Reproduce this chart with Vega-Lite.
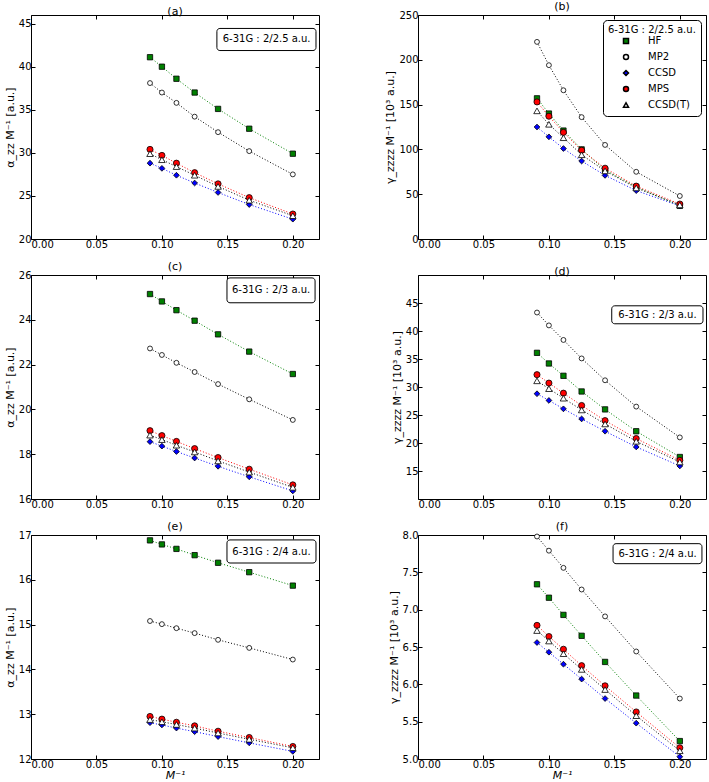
{
  "$schema": "https://vega.github.io/schema/vega-lite/v6.json",
  "padding": {"left": 3, "top": 0, "right": 0, "bottom": 0},
  "columns": 2,
  "spacing": {"row": 36, "column": 99},
  "bounds": "flush",
  "datasets": {
    "a": [
      {"x": 0.0909, "method": "HF", "value": 41.1}, {"x": 0.1, "method": "HF", "value": 40.0}, {"x": 0.1111, "method": "HF", "value": 38.6}, {"x": 0.125, "method": "HF", "value": 37.0}, {"x": 0.1429, "method": "HF", "value": 35.1}, {"x": 0.1667, "method": "HF", "value": 32.8}, {"x": 0.2, "method": "HF", "value": 29.9},
      {"x": 0.0909, "method": "MP2", "value": 38.1}, {"x": 0.1, "method": "MP2", "value": 37.0}, {"x": 0.1111, "method": "MP2", "value": 35.8}, {"x": 0.125, "method": "MP2", "value": 34.2}, {"x": 0.1429, "method": "MP2", "value": 32.4}, {"x": 0.1667, "method": "MP2", "value": 30.2}, {"x": 0.2, "method": "MP2", "value": 27.5},
      {"x": 0.0909, "method": "CCSD", "value": 28.8}, {"x": 0.1, "method": "CCSD", "value": 28.2}, {"x": 0.1111, "method": "CCSD", "value": 27.4}, {"x": 0.125, "method": "CCSD", "value": 26.5}, {"x": 0.1429, "method": "CCSD", "value": 25.4}, {"x": 0.1667, "method": "CCSD", "value": 24.0}, {"x": 0.2, "method": "CCSD", "value": 22.3},
      {"x": 0.0909, "method": "MPS", "value": 30.4}, {"x": 0.1, "method": "MPS", "value": 29.7}, {"x": 0.1111, "method": "MPS", "value": 28.8}, {"x": 0.125, "method": "MPS", "value": 27.7}, {"x": 0.1429, "method": "MPS", "value": 26.4}, {"x": 0.1667, "method": "MPS", "value": 24.8}, {"x": 0.2, "method": "MPS", "value": 22.9},
      {"x": 0.0909, "method": "CCSD(T)", "value": 29.9}, {"x": 0.1, "method": "CCSD(T)", "value": 29.2}, {"x": 0.1111, "method": "CCSD(T)", "value": 28.4}, {"x": 0.125, "method": "CCSD(T)", "value": 27.4}, {"x": 0.1429, "method": "CCSD(T)", "value": 26.1}, {"x": 0.1667, "method": "CCSD(T)", "value": 24.5}, {"x": 0.2, "method": "CCSD(T)", "value": 22.7}
    ],
    "b": [
      {"x": 0.0909, "method": "HF", "value": 157}, {"x": 0.1, "method": "HF", "value": 140}, {"x": 0.1111, "method": "HF", "value": 121}, {"x": 0.125, "method": "HF", "value": 100}, {"x": 0.1429, "method": "HF", "value": 77}, {"x": 0.1667, "method": "HF", "value": 58}, {"x": 0.2, "method": "HF", "value": 37},
      {"x": 0.0909, "method": "MP2", "value": 220}, {"x": 0.1, "method": "MP2", "value": 194}, {"x": 0.1111, "method": "MP2", "value": 166}, {"x": 0.125, "method": "MP2", "value": 136}, {"x": 0.1429, "method": "MP2", "value": 105}, {"x": 0.1667, "method": "MP2", "value": 75}, {"x": 0.2, "method": "MP2", "value": 48},
      {"x": 0.0909, "method": "CCSD", "value": 125}, {"x": 0.1, "method": "CCSD", "value": 114}, {"x": 0.1111, "method": "CCSD", "value": 101}, {"x": 0.125, "method": "CCSD", "value": 87}, {"x": 0.1429, "method": "CCSD", "value": 71}, {"x": 0.1667, "method": "CCSD", "value": 54}, {"x": 0.2, "method": "CCSD", "value": 37},
      {"x": 0.0909, "method": "MPS", "value": 153}, {"x": 0.1, "method": "MPS", "value": 137}, {"x": 0.1111, "method": "MPS", "value": 119}, {"x": 0.125, "method": "MPS", "value": 99}, {"x": 0.1429, "method": "MPS", "value": 79}, {"x": 0.1667, "method": "MPS", "value": 59}, {"x": 0.2, "method": "MPS", "value": 39},
      {"x": 0.0909, "method": "CCSD(T)", "value": 143}, {"x": 0.1, "method": "CCSD(T)", "value": 128}, {"x": 0.1111, "method": "CCSD(T)", "value": 113}, {"x": 0.125, "method": "CCSD(T)", "value": 94}, {"x": 0.1429, "method": "CCSD(T)", "value": 76}, {"x": 0.1667, "method": "CCSD(T)", "value": 57}, {"x": 0.2, "method": "CCSD(T)", "value": 38}
    ],
    "c": [
      {"x": 0.0909, "method": "HF", "value": 25.15}, {"x": 0.1, "method": "HF", "value": 24.82}, {"x": 0.1111, "method": "HF", "value": 24.43}, {"x": 0.125, "method": "HF", "value": 23.96}, {"x": 0.1429, "method": "HF", "value": 23.35}, {"x": 0.1667, "method": "HF", "value": 22.58}, {"x": 0.2, "method": "HF", "value": 21.58},
      {"x": 0.0909, "method": "MP2", "value": 22.72}, {"x": 0.1, "method": "MP2", "value": 22.43}, {"x": 0.1111, "method": "MP2", "value": 22.08}, {"x": 0.125, "method": "MP2", "value": 21.67}, {"x": 0.1429, "method": "MP2", "value": 21.13}, {"x": 0.1667, "method": "MP2", "value": 20.45}, {"x": 0.2, "method": "MP2", "value": 19.53},
      {"x": 0.0909, "method": "CCSD", "value": 18.56}, {"x": 0.1, "method": "CCSD", "value": 18.36}, {"x": 0.1111, "method": "CCSD", "value": 18.12}, {"x": 0.125, "method": "CCSD", "value": 17.83}, {"x": 0.1429, "method": "CCSD", "value": 17.46}, {"x": 0.1667, "method": "CCSD", "value": 16.99}, {"x": 0.2, "method": "CCSD", "value": 16.36},
      {"x": 0.0909, "method": "MPS", "value": 19.05}, {"x": 0.1, "method": "MPS", "value": 18.83}, {"x": 0.1111, "method": "MPS", "value": 18.57}, {"x": 0.125, "method": "MPS", "value": 18.25}, {"x": 0.1429, "method": "MPS", "value": 17.85}, {"x": 0.1667, "method": "MPS", "value": 17.33}, {"x": 0.2, "method": "MPS", "value": 16.63},
      {"x": 0.0909, "method": "CCSD(T)", "value": 18.85}, {"x": 0.1, "method": "CCSD(T)", "value": 18.65}, {"x": 0.1111, "method": "CCSD(T)", "value": 18.4}, {"x": 0.125, "method": "CCSD(T)", "value": 18.1}, {"x": 0.1429, "method": "CCSD(T)", "value": 17.7}, {"x": 0.1667, "method": "CCSD(T)", "value": 17.2}, {"x": 0.2, "method": "CCSD(T)", "value": 16.52}
    ],
    "d": [
      {"x": 0.0909, "method": "HF", "value": 36.1}, {"x": 0.1, "method": "HF", "value": 34.2}, {"x": 0.1111, "method": "HF", "value": 32.0}, {"x": 0.125, "method": "HF", "value": 29.2}, {"x": 0.1429, "method": "HF", "value": 26.0}, {"x": 0.1667, "method": "HF", "value": 22.1}, {"x": 0.2, "method": "HF", "value": 17.5},
      {"x": 0.0909, "method": "MP2", "value": 43.3}, {"x": 0.1, "method": "MP2", "value": 41.0}, {"x": 0.1111, "method": "MP2", "value": 38.4}, {"x": 0.125, "method": "MP2", "value": 35.1}, {"x": 0.1429, "method": "MP2", "value": 31.2}, {"x": 0.1667, "method": "MP2", "value": 26.5}, {"x": 0.2, "method": "MP2", "value": 21.0},
      {"x": 0.0909, "method": "CCSD", "value": 28.8}, {"x": 0.1, "method": "CCSD", "value": 27.6}, {"x": 0.1111, "method": "CCSD", "value": 26.1}, {"x": 0.125, "method": "CCSD", "value": 24.3}, {"x": 0.1429, "method": "CCSD", "value": 22.1}, {"x": 0.1667, "method": "CCSD", "value": 19.3}, {"x": 0.2, "method": "CCSD", "value": 15.9},
      {"x": 0.0909, "method": "MPS", "value": 32.2}, {"x": 0.1, "method": "MPS", "value": 30.7}, {"x": 0.1111, "method": "MPS", "value": 28.9}, {"x": 0.125, "method": "MPS", "value": 26.7}, {"x": 0.1429, "method": "MPS", "value": 24.0}, {"x": 0.1667, "method": "MPS", "value": 20.8}, {"x": 0.2, "method": "MPS", "value": 16.9},
      {"x": 0.0909, "method": "CCSD(T)", "value": 31.1}, {"x": 0.1, "method": "CCSD(T)", "value": 29.7}, {"x": 0.1111, "method": "CCSD(T)", "value": 28.0}, {"x": 0.125, "method": "CCSD(T)", "value": 25.9}, {"x": 0.1429, "method": "CCSD(T)", "value": 23.4}, {"x": 0.1667, "method": "CCSD(T)", "value": 20.3}, {"x": 0.2, "method": "CCSD(T)", "value": 16.6}
    ],
    "e": [
      {"x": 0.0909, "method": "HF", "value": 16.88}, {"x": 0.1, "method": "HF", "value": 16.79}, {"x": 0.1111, "method": "HF", "value": 16.69}, {"x": 0.125, "method": "HF", "value": 16.55}, {"x": 0.1429, "method": "HF", "value": 16.38}, {"x": 0.1667, "method": "HF", "value": 16.17}, {"x": 0.2, "method": "HF", "value": 15.87},
      {"x": 0.0909, "method": "MP2", "value": 15.08}, {"x": 0.1, "method": "MP2", "value": 15.01}, {"x": 0.1111, "method": "MP2", "value": 14.92}, {"x": 0.125, "method": "MP2", "value": 14.81}, {"x": 0.1429, "method": "MP2", "value": 14.66}, {"x": 0.1667, "method": "MP2", "value": 14.48}, {"x": 0.2, "method": "MP2", "value": 14.22},
      {"x": 0.0909, "method": "CCSD", "value": 12.81}, {"x": 0.1, "method": "CCSD", "value": 12.76}, {"x": 0.1111, "method": "CCSD", "value": 12.69}, {"x": 0.125, "method": "CCSD", "value": 12.61}, {"x": 0.1429, "method": "CCSD", "value": 12.5}, {"x": 0.1667, "method": "CCSD", "value": 12.36}, {"x": 0.2, "method": "CCSD", "value": 12.17},
      {"x": 0.0909, "method": "MPS", "value": 12.95}, {"x": 0.1, "method": "MPS", "value": 12.89}, {"x": 0.1111, "method": "MPS", "value": 12.82}, {"x": 0.125, "method": "MPS", "value": 12.74}, {"x": 0.1429, "method": "MPS", "value": 12.62}, {"x": 0.1667, "method": "MPS", "value": 12.48}, {"x": 0.2, "method": "MPS", "value": 12.28},
      {"x": 0.0909, "method": "CCSD(T)", "value": 12.88}, {"x": 0.1, "method": "CCSD(T)", "value": 12.83}, {"x": 0.1111, "method": "CCSD(T)", "value": 12.77}, {"x": 0.125, "method": "CCSD(T)", "value": 12.69}, {"x": 0.1429, "method": "CCSD(T)", "value": 12.58}, {"x": 0.1667, "method": "CCSD(T)", "value": 12.44}, {"x": 0.2, "method": "CCSD(T)", "value": 12.25}
    ],
    "f": [
      {"x": 0.0909, "method": "HF", "value": 7.34}, {"x": 0.1, "method": "HF", "value": 7.16}, {"x": 0.1111, "method": "HF", "value": 6.93}, {"x": 0.125, "method": "HF", "value": 6.65}, {"x": 0.1429, "method": "HF", "value": 6.3}, {"x": 0.1667, "method": "HF", "value": 5.85}, {"x": 0.2, "method": "HF", "value": 5.24},
      {"x": 0.0909, "method": "MP2", "value": 7.98}, {"x": 0.1, "method": "MP2", "value": 7.79}, {"x": 0.1111, "method": "MP2", "value": 7.56}, {"x": 0.125, "method": "MP2", "value": 7.27}, {"x": 0.1429, "method": "MP2", "value": 6.91}, {"x": 0.1667, "method": "MP2", "value": 6.44}, {"x": 0.2, "method": "MP2", "value": 5.81},
      {"x": 0.0909, "method": "CCSD", "value": 6.56}, {"x": 0.1, "method": "CCSD", "value": 6.43}, {"x": 0.1111, "method": "CCSD", "value": 6.27}, {"x": 0.125, "method": "CCSD", "value": 6.07}, {"x": 0.1429, "method": "CCSD", "value": 5.81}, {"x": 0.1667, "method": "CCSD", "value": 5.48}, {"x": 0.2, "method": "CCSD", "value": 5.03},
      {"x": 0.0909, "method": "MPS", "value": 6.79}, {"x": 0.1, "method": "MPS", "value": 6.64}, {"x": 0.1111, "method": "MPS", "value": 6.47}, {"x": 0.125, "method": "MPS", "value": 6.25}, {"x": 0.1429, "method": "MPS", "value": 5.98}, {"x": 0.1667, "method": "MPS", "value": 5.63}, {"x": 0.2, "method": "MPS", "value": 5.15},
      {"x": 0.0909, "method": "CCSD(T)", "value": 6.72}, {"x": 0.1, "method": "CCSD(T)", "value": 6.58}, {"x": 0.1111, "method": "CCSD(T)", "value": 6.41}, {"x": 0.125, "method": "CCSD(T)", "value": 6.2}, {"x": 0.1429, "method": "CCSD(T)", "value": 5.93}, {"x": 0.1667, "method": "CCSD(T)", "value": 5.58}, {"x": 0.2, "method": "CCSD(T)", "value": 5.11}
    ]
  },
  "concat": [
    {
      "title": "(a)",
      "width": 288, "height": 224,
      "data": {"name": "a"},
      "layer": [
        {"mark": {"type": "line", "strokeDash": [1, 2], "strokeWidth": 1},
         "encoding": {
           "x": {"field": "x", "type": "quantitative", "scale": {"domain": [0, 0.22]}, "axis": {"values": [0, 0.05, 0.1, 0.15, 0.2], "format": ".2f", "title": null}},
           "y": {"field": "value", "type": "quantitative", "scale": {"domain": [20, 45]}, "axis": {"values": [20, 25, 30, 35, 40, 45], "title": "α_zz M⁻¹ [a.u.]"}},
           "stroke": {"field": "method", "type": "nominal", "scale": {"domain": ["CCSD(T)", "MPS", "CCSD", "MP2", "HF"], "range": ["#000000", "#FF0000", "#0000FF", "#000000", "#008000"]}, "legend": null}
         }},
        {"mark": {"type": "point", "filled": true, "stroke": "black", "strokeWidth": 0.8, "opacity": 1},
         "encoding": {
           "x": {"field": "x", "type": "quantitative", "scale": {"domain": [0, 0.22]}, "axis": {"orient": "top", "values": [0, 0.05, 0.1, 0.15, 0.2], "labels": false, "title": null}},
           "y": {"field": "value", "type": "quantitative", "scale": {"domain": [20, 45]}, "axis": {"orient": "right", "values": [20, 25, 30, 35, 40, 45], "labels": false, "title": null}},
           "fill": {"field": "method", "type": "nominal", "scale": {"domain": ["HF", "MP2", "CCSD", "MPS", "CCSD(T)"], "range": ["#008000", "#FFFFFF", "#0000FF", "#FF0000", "#FFFFFF"]}, "legend": null},
           "shape": {"field": "method", "type": "nominal", "scale": {"domain": ["HF", "MP2", "CCSD", "MPS", "CCSD(T)"], "range": ["square", "circle", "diamond", "circle", "triangle-up"]}, "legend": null},
           "size": {"field": "method", "type": "nominal", "scale": {"domain": ["MP2", "HF", "CCSD", "MPS", "CCSD(T)"], "range": [24, 42, 70, 36, 28]}, "legend": null}
         }},
        {"data": {"values": [{}]},
         "mark": {"type": "rect", "fill": "white", "stroke": "black", "strokeWidth": 1, "cornerRadius": 3},
         "encoding": {
           "x": {"datum": 0.142, "type": "quantitative", "axis": null}, "x2": {"datum": 0.2177},
           "y": {"datum": 44.44, "type": "quantitative", "axis": null}, "y2": {"datum": 41.875}
         }},
        {"data": {"values": [{}]},
         "mark": {"type": "text", "fontSize": 10, "align": "center", "baseline": "middle"},
         "encoding": {
           "x": {"datum": 0.18, "type": "quantitative", "axis": null},
           "y": {"datum": 43.16, "type": "quantitative", "axis": null},
           "text": {"value": "6-31G : 2/2.5 a.u."}
         }}
      ],
      "resolve": {"axis": {"x": "independent", "y": "independent"}}
    },
    {
      "title": "(b)",
      "width": 288, "height": 224,
      "data": {"name": "b"},
      "layer": [
        {"mark": {"type": "line", "strokeDash": [1, 2], "strokeWidth": 1},
         "encoding": {
           "x": {"field": "x", "type": "quantitative", "scale": {"domain": [0, 0.22]}, "axis": {"values": [0, 0.05, 0.1, 0.15, 0.2], "format": ".2f", "title": null}},
           "y": {"field": "value", "type": "quantitative", "scale": {"domain": [0, 250]}, "axis": {"values": [0, 50, 100, 150, 200, 250], "title": "γ_zzzz M⁻¹ [10³ a.u.]"}},
           "stroke": {"field": "method", "type": "nominal", "scale": {"domain": ["CCSD(T)", "MPS", "CCSD", "MP2", "HF"], "range": ["#000000", "#FF0000", "#0000FF", "#000000", "#008000"]}, "legend": null}
         }},
        {"mark": {"type": "point", "filled": true, "stroke": "black", "strokeWidth": 0.8, "opacity": 1},
         "encoding": {
           "x": {"field": "x", "type": "quantitative", "scale": {"domain": [0, 0.22]}, "axis": {"orient": "top", "values": [0, 0.05, 0.1, 0.15, 0.2], "labels": false, "title": null}},
           "y": {"field": "value", "type": "quantitative", "scale": {"domain": [0, 250]}, "axis": {"orient": "right", "values": [0, 50, 100, 150, 200, 250], "labels": false, "title": null}},
           "fill": {"field": "method", "type": "nominal", "scale": {"domain": ["HF", "MP2", "CCSD", "MPS", "CCSD(T)"], "range": ["#008000", "#FFFFFF", "#0000FF", "#FF0000", "#FFFFFF"]},
             "legend": {"title": "6-31G : 2/2.5 a.u.", "orient": "top-right", "encode": {"symbols": {"update": {"stroke": {"value": "black"}, "strokeWidth": {"value": 0.8}}}}}},
           "shape": {"field": "method", "type": "nominal", "scale": {"domain": ["HF", "MP2", "CCSD", "MPS", "CCSD(T)"], "range": ["square", "circle", "diamond", "circle", "triangle-up"]},
             "legend": {"title": "6-31G : 2/2.5 a.u.", "orient": "top-right", "encode": {"symbols": {"update": {"stroke": {"value": "black"}, "strokeWidth": {"value": 0.8}}}}}},
           "size": {"field": "method", "type": "nominal", "scale": {"domain": ["MP2", "HF", "CCSD", "MPS", "CCSD(T)"], "range": [24, 42, 70, 36, 28]}, "legend": null}
         }}
      ],
      "resolve": {"axis": {"x": "independent", "y": "independent"}}
    },
    {
      "title": "(c)",
      "width": 288, "height": 224,
      "data": {"name": "c"},
      "layer": [
        {"mark": {"type": "line", "strokeDash": [1, 2], "strokeWidth": 1},
         "encoding": {
           "x": {"field": "x", "type": "quantitative", "scale": {"domain": [0, 0.22]}, "axis": {"values": [0, 0.05, 0.1, 0.15, 0.2], "format": ".2f", "title": null}},
           "y": {"field": "value", "type": "quantitative", "scale": {"domain": [16, 26]}, "axis": {"values": [16, 18, 20, 22, 24, 26], "title": "α_zz M⁻¹ [a.u.]"}},
           "stroke": {"field": "method", "type": "nominal", "scale": {"domain": ["CCSD(T)", "MPS", "CCSD", "MP2", "HF"], "range": ["#000000", "#FF0000", "#0000FF", "#000000", "#008000"]}, "legend": null}
         }},
        {"mark": {"type": "point", "filled": true, "stroke": "black", "strokeWidth": 0.8, "opacity": 1},
         "encoding": {
           "x": {"field": "x", "type": "quantitative", "scale": {"domain": [0, 0.22]}, "axis": {"orient": "top", "values": [0, 0.05, 0.1, 0.15, 0.2], "labels": false, "title": null}},
           "y": {"field": "value", "type": "quantitative", "scale": {"domain": [16, 26]}, "axis": {"orient": "right", "values": [16, 18, 20, 22, 24, 26], "labels": false, "title": null}},
           "fill": {"field": "method", "type": "nominal", "scale": {"domain": ["HF", "MP2", "CCSD", "MPS", "CCSD(T)"], "range": ["#008000", "#FFFFFF", "#0000FF", "#FF0000", "#FFFFFF"]}, "legend": null},
           "shape": {"field": "method", "type": "nominal", "scale": {"domain": ["HF", "MP2", "CCSD", "MPS", "CCSD(T)"], "range": ["square", "circle", "diamond", "circle", "triangle-up"]}, "legend": null},
           "size": {"field": "method", "type": "nominal", "scale": {"domain": ["MP2", "HF", "CCSD", "MPS", "CCSD(T)"], "range": [24, 42, 70, 36, 28]}, "legend": null}
         }},
        {"data": {"values": [{}]},
         "mark": {"type": "rect", "fill": "white", "stroke": "black", "strokeWidth": 1, "cornerRadius": 3},
         "encoding": {
           "x": {"datum": 0.1497, "type": "quantitative", "axis": null}, "x2": {"datum": 0.217},
           "y": {"datum": 25.87, "type": "quantitative", "axis": null}, "y2": {"datum": 24.76}
         }},
        {"data": {"values": [{}]},
         "mark": {"type": "text", "fontSize": 10, "align": "center", "baseline": "middle"},
         "encoding": {
           "x": {"datum": 0.1834, "type": "quantitative", "axis": null},
           "y": {"datum": 25.31, "type": "quantitative", "axis": null},
           "text": {"value": "6-31G : 2/3 a.u."}
         }}
      ],
      "resolve": {"axis": {"x": "independent", "y": "independent"}}
    },
    {
      "title": "(d)",
      "width": 288, "height": 224,
      "data": {"name": "d"},
      "layer": [
        {"mark": {"type": "line", "strokeDash": [1, 2], "strokeWidth": 1},
         "encoding": {
           "x": {"field": "x", "type": "quantitative", "scale": {"domain": [0, 0.22]}, "axis": {"values": [0, 0.05, 0.1, 0.15, 0.2], "format": ".2f", "title": null}},
           "y": {"field": "value", "type": "quantitative", "scale": {"domain": [15, 45]}, "axis": {"values": [15, 20, 25, 30, 35, 40, 45], "title": "γ_zzzz M⁻¹ [10³ a.u.]"}},
           "stroke": {"field": "method", "type": "nominal", "scale": {"domain": ["CCSD(T)", "MPS", "CCSD", "MP2", "HF"], "range": ["#000000", "#FF0000", "#0000FF", "#000000", "#008000"]}, "legend": null}
         }},
        {"mark": {"type": "point", "filled": true, "stroke": "black", "strokeWidth": 0.8, "opacity": 1},
         "encoding": {
           "x": {"field": "x", "type": "quantitative", "scale": {"domain": [0, 0.22]}, "axis": {"orient": "top", "values": [0, 0.05, 0.1, 0.15, 0.2], "labels": false, "title": null}},
           "y": {"field": "value", "type": "quantitative", "scale": {"domain": [15, 45]}, "axis": {"orient": "right", "values": [15, 20, 25, 30, 35, 40, 45], "labels": false, "title": null}},
           "fill": {"field": "method", "type": "nominal", "scale": {"domain": ["HF", "MP2", "CCSD", "MPS", "CCSD(T)"], "range": ["#008000", "#FFFFFF", "#0000FF", "#FF0000", "#FFFFFF"]}, "legend": null},
           "shape": {"field": "method", "type": "nominal", "scale": {"domain": ["HF", "MP2", "CCSD", "MPS", "CCSD(T)"], "range": ["square", "circle", "diamond", "circle", "triangle-up"]}, "legend": null},
           "size": {"field": "method", "type": "nominal", "scale": {"domain": ["MP2", "HF", "CCSD", "MPS", "CCSD(T)"], "range": [24, 42, 70, 36, 28]}, "legend": null}
         }},
        {"data": {"values": [{}]},
         "mark": {"type": "rect", "fill": "white", "stroke": "black", "strokeWidth": 1, "cornerRadius": 3},
         "encoding": {
           "x": {"datum": 0.148, "type": "quantitative", "axis": null}, "x2": {"datum": 0.2177},
           "y": {"datum": 44.5, "type": "quantitative", "axis": null}, "y2": {"datum": 41.29}
         }},
        {"data": {"values": [{}]},
         "mark": {"type": "text", "fontSize": 10, "align": "center", "baseline": "middle"},
         "encoding": {
           "x": {"datum": 0.1829, "type": "quantitative", "axis": null},
           "y": {"datum": 42.9, "type": "quantitative", "axis": null},
           "text": {"value": "6-31G : 2/3 a.u."}
         }}
      ],
      "resolve": {"axis": {"x": "independent", "y": "independent"}}
    },
    {
      "title": "(e)",
      "width": 288, "height": 224,
      "data": {"name": "e"},
      "layer": [
        {"mark": {"type": "line", "strokeDash": [1, 2], "strokeWidth": 1},
         "encoding": {
           "x": {"field": "x", "type": "quantitative", "scale": {"domain": [0, 0.22]}, "axis": {"values": [0, 0.05, 0.1, 0.15, 0.2], "format": ".2f", "title": "M⁻¹", "titleFontStyle": "italic", "titlePadding": 0}},
           "y": {"field": "value", "type": "quantitative", "scale": {"domain": [12, 17]}, "axis": {"values": [12, 13, 14, 15, 16, 17], "title": "α_zz M⁻¹ [a.u.]"}},
           "stroke": {"field": "method", "type": "nominal", "scale": {"domain": ["CCSD(T)", "MPS", "CCSD", "MP2", "HF"], "range": ["#000000", "#FF0000", "#0000FF", "#000000", "#008000"]}, "legend": null}
         }},
        {"mark": {"type": "point", "filled": true, "stroke": "black", "strokeWidth": 0.8, "opacity": 1},
         "encoding": {
           "x": {"field": "x", "type": "quantitative", "scale": {"domain": [0, 0.22]}, "axis": {"orient": "top", "values": [0, 0.05, 0.1, 0.15, 0.2], "labels": false, "title": null}},
           "y": {"field": "value", "type": "quantitative", "scale": {"domain": [12, 17]}, "axis": {"orient": "right", "values": [12, 13, 14, 15, 16, 17], "labels": false, "title": null}},
           "fill": {"field": "method", "type": "nominal", "scale": {"domain": ["HF", "MP2", "CCSD", "MPS", "CCSD(T)"], "range": ["#008000", "#FFFFFF", "#0000FF", "#FF0000", "#FFFFFF"]}, "legend": null},
           "shape": {"field": "method", "type": "nominal", "scale": {"domain": ["HF", "MP2", "CCSD", "MPS", "CCSD(T)"], "range": ["square", "circle", "diamond", "circle", "triangle-up"]}, "legend": null},
           "size": {"field": "method", "type": "nominal", "scale": {"domain": ["MP2", "HF", "CCSD", "MPS", "CCSD(T)"], "range": [24, 42, 70, 36, 28]}, "legend": null}
         }},
        {"data": {"values": [{}]},
         "mark": {"type": "rect", "fill": "white", "stroke": "black", "strokeWidth": 1, "cornerRadius": 3},
         "encoding": {
           "x": {"datum": 0.1497, "type": "quantitative", "axis": null}, "x2": {"datum": 0.2177},
           "y": {"datum": 16.89, "type": "quantitative", "axis": null}, "y2": {"datum": 16.375}
         }},
        {"data": {"values": [{}]},
         "mark": {"type": "text", "fontSize": 10, "align": "center", "baseline": "middle"},
         "encoding": {
           "x": {"datum": 0.1837, "type": "quantitative", "axis": null},
           "y": {"datum": 16.63, "type": "quantitative", "axis": null},
           "text": {"value": "6-31G : 2/4 a.u."}
         }}
      ],
      "resolve": {"axis": {"x": "independent", "y": "independent"}}
    },
    {
      "title": "(f)",
      "width": 288, "height": 224,
      "data": {"name": "f"},
      "layer": [
        {"mark": {"type": "line", "strokeDash": [1, 2], "strokeWidth": 1},
         "encoding": {
           "x": {"field": "x", "type": "quantitative", "scale": {"domain": [0, 0.22]}, "axis": {"values": [0, 0.05, 0.1, 0.15, 0.2], "format": ".2f", "title": "M⁻¹", "titleFontStyle": "italic", "titlePadding": 0}},
           "y": {"field": "value", "type": "quantitative", "scale": {"domain": [5, 8]}, "axis": {"values": [5, 5.5, 6, 6.5, 7, 7.5, 8], "format": ".1f", "title": "γ_zzzz M⁻¹ [10³ a.u.]"}},
           "stroke": {"field": "method", "type": "nominal", "scale": {"domain": ["CCSD(T)", "MPS", "CCSD", "MP2", "HF"], "range": ["#000000", "#FF0000", "#0000FF", "#000000", "#008000"]}, "legend": null}
         }},
        {"mark": {"type": "point", "filled": true, "stroke": "black", "strokeWidth": 0.8, "opacity": 1},
         "encoding": {
           "x": {"field": "x", "type": "quantitative", "scale": {"domain": [0, 0.22]}, "axis": {"orient": "top", "values": [0, 0.05, 0.1, 0.15, 0.2], "labels": false, "title": null}},
           "y": {"field": "value", "type": "quantitative", "scale": {"domain": [5, 8]}, "axis": {"orient": "right", "values": [5, 5.5, 6, 6.5, 7, 7.5, 8], "labels": false, "title": null}},
           "fill": {"field": "method", "type": "nominal", "scale": {"domain": ["HF", "MP2", "CCSD", "MPS", "CCSD(T)"], "range": ["#008000", "#FFFFFF", "#0000FF", "#FF0000", "#FFFFFF"]}, "legend": null},
           "shape": {"field": "method", "type": "nominal", "scale": {"domain": ["HF", "MP2", "CCSD", "MPS", "CCSD(T)"], "range": ["square", "circle", "diamond", "circle", "triangle-up"]}, "legend": null},
           "size": {"field": "method", "type": "nominal", "scale": {"domain": ["MP2", "HF", "CCSD", "MPS", "CCSD(T)"], "range": [24, 42, 70, 36, 28]}, "legend": null}
         }},
        {"data": {"values": [{}]},
         "mark": {"type": "rect", "fill": "white", "stroke": "black", "strokeWidth": 1, "cornerRadius": 3},
         "encoding": {
           "x": {"datum": 0.149, "type": "quantitative", "axis": null}, "x2": {"datum": 0.2169},
           "y": {"datum": 7.884, "type": "quantitative", "axis": null}, "y2": {"datum": 7.616}
         }},
        {"data": {"values": [{}]},
         "mark": {"type": "text", "fontSize": 10, "align": "center", "baseline": "middle"},
         "encoding": {
           "x": {"datum": 0.183, "type": "quantitative", "axis": null},
           "y": {"datum": 7.75, "type": "quantitative", "axis": null},
           "text": {"value": "6-31G : 2/4 a.u."}
         }}
      ],
      "resolve": {"axis": {"x": "independent", "y": "independent"}}
    }
  ],
  "resolve": {
    "scale": {"fill": "independent", "shape": "independent", "size": "independent", "stroke": "independent"},
    "legend": {"fill": "independent", "shape": "independent", "size": "independent", "stroke": "independent"}
  },
  "config": {
    "font": "DejaVu Sans",
    "view": {"stroke": "black", "strokeWidth": 1},
    "axis": {
      "grid": false,
      "domain": false,
      "tickColor": "black",
      "tickSize": -4,
      "labelPadding": 4,
      "labelFontSize": 10,
      "labelColor": "black",
      "titleFontSize": 11,
      "titleFontWeight": "normal",
      "titleColor": "black",
      "titlePadding": 3,
      "minExtent": 0
    },
    "title": {"fontSize": 11, "fontWeight": "normal", "offset": -2, "color": "black", "frame": "group"},
    "legend": {
      "offset": 5,
      "strokeColor": "black",
      "cornerRadius": 4,
      "fillColor": "white",
      "padding": 5,
      "titleFontSize": 10,
      "titleFontWeight": "normal",
      "titleColor": "black",
      "titlePadding": 1,
      "labelFontSize": 10,
      "labelColor": "black",
      "symbolSize": 25,
      "symbolOffset": 13,
      "labelOffset": 17,
      "rowPadding": 4
    }
  }
}
